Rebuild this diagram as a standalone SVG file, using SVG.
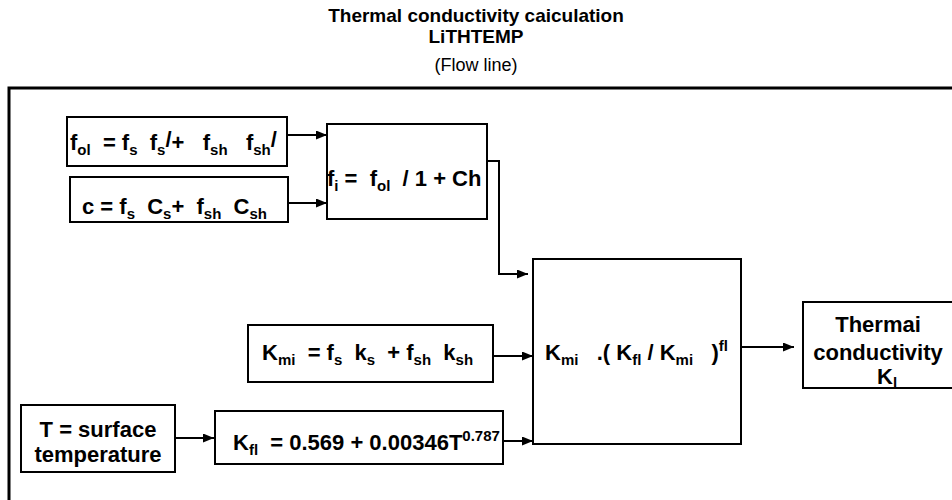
<svg xmlns="http://www.w3.org/2000/svg" width="952" height="500" viewBox="0 0 952 500">
<defs>
<marker id="ah" markerWidth="11" markerHeight="9" refX="11" refY="4.5" orient="auto" markerUnits="userSpaceOnUse">
<path d="M0,0 L11,4.5 L0,9 Z" fill="#000"/>
</marker>
<style>
text{font-family:"Liberation Sans",Arial,Helvetica,sans-serif;fill:#000;white-space:pre}
.t{font-weight:bold;font-size:19px}
.r{font-size:18px}
.b{font-weight:bold;font-size:22px}
.s{font-size:15px}
.box{fill:#fff;stroke:#000;stroke-width:2}
.c{fill:none;stroke:#000;stroke-width:2;marker-end:url(#ah)}
</style>
</defs>
<rect width="952" height="500" fill="#fff"/>
<g id="title">
<text class="t" x="476" y="22" text-anchor="middle">Thermal conductivity caiculation</text>
<text class="t" x="476" y="43" text-anchor="middle">LiTHTEMP</text>
<text class="r" x="476" y="71" text-anchor="middle">(Flow line)</text>
</g>
<path id="frame" d="M9,500 L9,88 L952,88" fill="none" stroke="#000" stroke-width="3"/>
<g id="connectors">
<path class="c" d="M287,135 L327,135"/>
<path class="c" d="M288,203 L327,203"/>
<path class="c" d="M487,161 L499,161 L499,274 L528,274"/>
<path class="c" d="M493,356 L533,356"/>
<path class="c" d="M175,438 L214,438"/>
<path class="c" d="M503,441 L533,441"/>
<path class="c" d="M741,347 L794,347"/>
</g>
<g id="n-fol">
<rect class="box" x="67" y="117" width="220" height="49"/>
<text class="b" x="70" y="150">f<tspan class="s" dy="5">ol</tspan><tspan dy="-5">  = f</tspan><tspan class="s" dy="5">s</tspan><tspan dy="-5">  f</tspan><tspan class="s" dy="5">s</tspan><tspan dy="-8">/</tspan><tspan dy="3">+   f</tspan><tspan class="s" dy="5">sh</tspan><tspan dy="-5">   f</tspan><tspan class="s" dy="5">sh</tspan><tspan dy="-8">/</tspan></text>
</g>
<g id="n-c">
<rect class="box" x="70" y="177" width="218" height="45"/>
<text class="b" x="82" y="214">c = f<tspan class="s" dy="5">s</tspan><tspan dy="-5">  C</tspan><tspan class="s" dy="5">s</tspan><tspan dy="-5">+  f</tspan><tspan class="s" dy="5">sh</tspan><tspan dy="-5">  C</tspan><tspan class="s" dy="5">sh</tspan></text>
</g>
<g id="n-fi">
<rect class="box" x="327" y="124" width="160" height="95"/>
<text class="b" x="327" y="186">f<tspan class="s" dy="5">i</tspan><tspan dy="-5"> =  f</tspan><tspan class="s" dy="5">ol</tspan><tspan dy="-5">  / 1 + Ch</tspan></text>
</g>
<g id="n-big">
<rect class="box" x="533" y="259" width="208" height="185"/>
<text class="b" x="545" y="360">K<tspan class="s" dy="5">mi</tspan><tspan dy="-5">   .( K</tspan><tspan class="s" dy="5">fl</tspan><tspan dy="-5"> / K</tspan><tspan class="s" dy="5">mi</tspan><tspan dy="-5">   )</tspan><tspan class="s" dy="-9">fl</tspan></text>
</g>
<g id="n-kmi">
<rect class="box" x="248" y="325" width="245" height="57"/>
<text class="b" x="262" y="360">K<tspan class="s" dy="5">mi</tspan><tspan dy="-5">  = f</tspan><tspan class="s" dy="5">s</tspan><tspan dy="-5">  k</tspan><tspan class="s" dy="5">s</tspan><tspan dy="-5">  + f</tspan><tspan class="s" dy="5">sh</tspan><tspan dy="-5">  k</tspan><tspan class="s" dy="5">sh</tspan></text>
</g>
<g id="n-T">
<rect class="box" x="21" y="405" width="154" height="67"/>
<text class="b" x="98" y="437" text-anchor="middle">T = surface</text>
<text class="b" x="98" y="462" text-anchor="middle">temperature</text>
</g>
<g id="n-kfl">
<rect class="box" x="215" y="411" width="288" height="53"/>
<text class="b" x="233" y="450">K<tspan class="s" dy="5">fl</tspan><tspan dy="-5">  = 0.569 + 0.00346T</tspan><tspan class="s" dy="-9">0.787</tspan></text>
</g>
<g id="n-out">
<rect class="box" x="803" y="302" width="160" height="86"/>
<text class="b" x="878" y="332" text-anchor="middle">Thermai</text>
<text class="b" x="878" y="360" text-anchor="middle">conductivity</text>
<text class="b" x="877" y="384">K<tspan class="s" dy="4">l</tspan></text>
</g>
</svg>
